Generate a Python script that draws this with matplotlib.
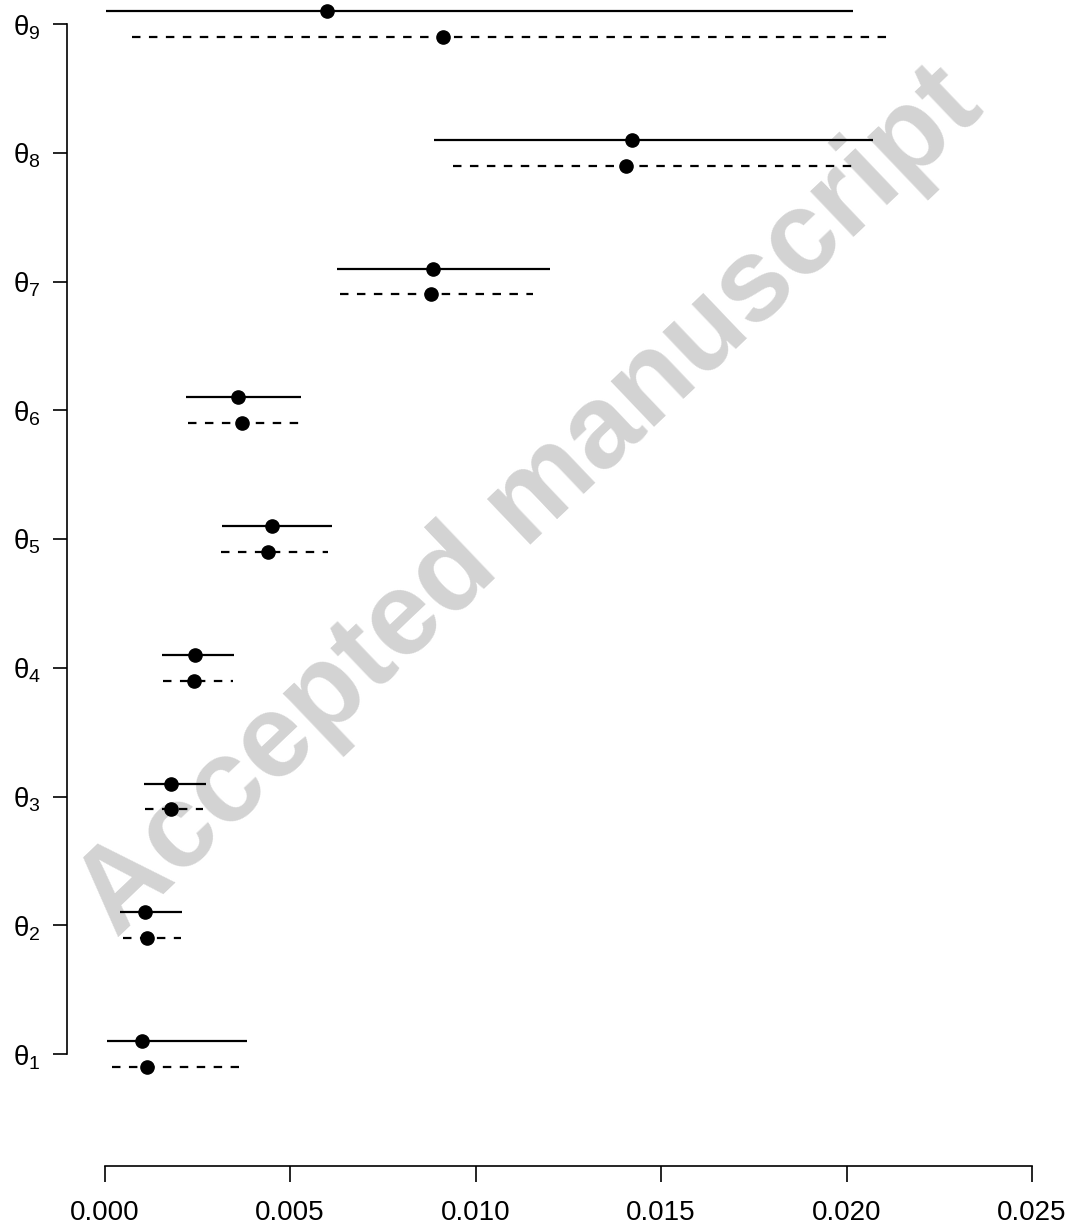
import matplotlib
matplotlib.use("Agg")
import matplotlib.pyplot as plt

# ---- data ----
params = [r"$\theta_{%d}$" % i for i in range(1, 10)]
ypos = [1, 2, 3, 4, 5, 6, 7, 8, 9]

# solid intervals (estimate 1)
lo_solid = [0.000067, 0.000418, 0.001065, 0.001550, 0.003167, 0.002197, 0.006267, 0.008881, 0.000040]
hi_solid = [0.003841, 0.002089, 0.002736, 0.003491, 0.006132, 0.005296, 0.012008, 0.020714, 0.020175]
pt_solid = [0.001011, 0.001092, 0.001792, 0.002439, 0.004515, 0.003598, 0.008854, 0.014218, 0.005997]

# dashed intervals (estimate 2)
lo_dash = [0.000202, 0.000499, 0.001092, 0.001577, 0.003140, 0.002251, 0.006348, 0.009394, 0.000741]
hi_dash = [0.003625, 0.002062, 0.002655, 0.003464, 0.006024, 0.005243, 0.011550, 0.020175, 0.021092]
pt_dash = [0.001146, 0.001146, 0.001792, 0.002412, 0.004407, 0.003706, 0.008800, 0.014057, 0.009124]

xticks = [0.000, 0.005, 0.010, 0.015, 0.020, 0.025]
xticklabels = ["0.000", "0.005", "0.010", "0.015", "0.020", "0.025"]

# ---- style ----
plt.rcParams["font.family"] = ["Liberation Sans", "DejaVu Sans"]
plt.rcParams["mathtext.fontset"] = "custom"
plt.rcParams["mathtext.rm"] = "Liberation Sans"
plt.rcParams["mathtext.it"] = "Liberation Sans"
plt.rcParams["mathtext.bf"] = "Liberation Sans:bold"
plt.rcParams["lines.scale_dashes"] = False

W, H = 1072, 1230
fig = plt.figure(figsize=(W / 100, H / 100), dpi=100)
L, R, T, B = 67, 1050, 5, 1166
ax = fig.add_axes([L / W, 1 - B / H, (R - L) / W, (B - T) / H])

# pixel mapping: x=0 -> 104.5 px, 0.025 -> 1032 px ; y=1 -> 1054 px, y=9 -> 24 px
x0px, x1px = 104.5, 1032.0
sx = (x1px - x0px) / 0.025
ax.set_xlim((L - x0px) / sx, (R - x0px) / sx)
sy = (1054 - 24) / 8
ax.set_ylim(1 - (B - 1054) / sy, 1 + (1054 - T) / sy)

off = 0.1
lw = 1.6
ms = 9.5
for i in range(len(ypos)):
    ys = ypos[i] + off
    yd = ypos[i] - off
    ax.plot([lo_solid[i], hi_solid[i]], [ys, ys], color="black", lw=lw,
            solid_capstyle="butt", clip_on=False, zorder=3)
    ax.plot([lo_dash[i], hi_dash[i]], [yd, yd], color="black", lw=lw,
            linestyle=(0, (6.1, 6.1)), dash_capstyle="butt", clip_on=False, zorder=3)
ax.plot(pt_solid, [y + off for y in ypos], "o", color="black", ms=ms, clip_on=False, zorder=4)
ax.plot(pt_dash, [y - off for y in ypos], "o", color="black", ms=ms, clip_on=False, zorder=4)

# watermark
fig.text(0.495, 0.591, "Accepted manuscript", fontsize=85, fontweight="bold",
         color="#d3d3d3", rotation=43.6, ha="center", va="center",
         rotation_mode="anchor", zorder=0)
ax.set_zorder(1)
ax.patch.set_alpha(0)

# axes
for s in ["top", "right"]:
    ax.spines[s].set_visible(False)
ax.spines["left"].set_bounds(1, 9)
ax.spines["bottom"].set_bounds(0, 0.025)
for s in ["left", "bottom"]:
    ax.spines[s].set_linewidth(1.2)

ax.set_xticks(xticks)
ax.set_xticklabels(xticklabels)
ax.set_yticks(ypos)
ax.set_yticklabels(params)
ax.tick_params(axis="x", length=11.5, width=1.2, labelsize=20, pad=13)
ax.tick_params(axis="y", length=10, width=1.2, labelsize=20, pad=9)

fig.savefig("out.png", dpi=100)
